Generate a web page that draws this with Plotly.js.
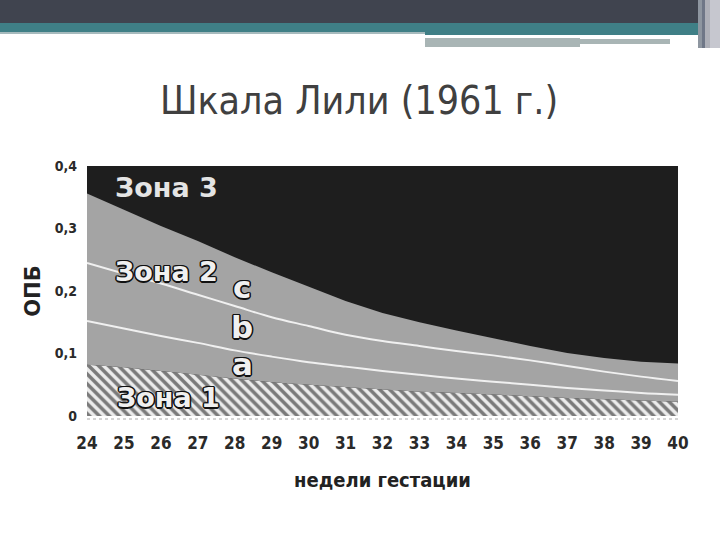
<!DOCTYPE html>
<html>
<head>
<meta charset="utf-8">
<script src="https://cdn.plot.ly/plotly-3.0.1.min.js"></script>
<style>
html,body{margin:0;padding:0;background:#ffffff;}
#chart{width:720px;height:540px;}
</style>
</head>
<body>
<div id="chart"></div>
<script>
// ---- data ----
const weeks = [24,25,26,27,28,29,30,31,32,33,34,35,36,37,38,39,40];
// upper limit of Zone 1 (hatched)
const zone1Top = [0.082,0.078,0.072,0.066,0.060,0.054,0.050,0.046,0.042,0.039,0.037,0.034,0.032,0.029,0.027,0.025,0.023];
// upper limit of Zone 2 (= lower limit of Zone 3)
const zone2Top = [0.356,0.330,0.304,0.280,0.254,0.230,0.207,0.184,0.165,0.150,0.137,0.124,0.112,0.101,0.093,0.087,0.084];
// white line between sub-zones b and c
const lineBC = [0.245,0.228,0.212,0.194,0.176,0.158,0.144,0.130,0.120,0.112,0.104,0.097,0.089,0.080,0.071,0.063,0.056];
// white line between sub-zones a and b
const lineAB = [0.152,0.140,0.128,0.117,0.105,0.095,0.086,0.079,0.072,0.066,0.060,0.055,0.050,0.045,0.041,0.037,0.034];
const yTickVals = [0,0.1,0.2,0.3,0.4];
const yTickText = ['0','0,1','0,2','0,3','0,4'];
const xTickText = weeks.map(String);

// ---- layout geometry ----
const L = 87, R = 678, T = 166, B = 416;
const W = 720, H = 540;
const px = x => (x - L) / (R - L);
const py = y => (B - y) / (B - T);
function rect(x0, y0, x1, y1, color) {
  return {type:'rect', xref:'paper', yref:'paper', x0:px(x0), x1:px(x1), y0:py(y1), y1:py(y0),
          fillcolor:color, line:{width:0}, layer:'above'};
}

const outline = '-1px -1px 0 #111, 1px -1px 0 #111, -1px 1px 0 #111, 1px 1px 0 #111, 0 1.5px 0 #111, 0 -1.5px 0 #111, 1.5px 0 0 #111, -1.5px 0 0 #111';
const labelFont = {family:'DejaVu Sans', size:27, color:'#f0f0f0', weight:'bold', shadow:outline};
const letterFont = {family:'DejaVu Sans', size:31, color:'#f0f0f0', weight:'bold', shadow:outline};
const narrow = 'Liberation Sans Narrow, DejaVu Sans Condensed, sans-serif';

const traces = [
  {x:weeks, y:zone1Top, type:'scatter', mode:'lines', fill:'tozeroy', name:'Зона 1',
   line:{width:0, color:'rgba(0,0,0,0)'}, fillcolor:'#eeeeee',
   fillpattern:{shape:'\\', bgcolor:'#ececec', fgcolor:'#7a7a7a', size:7, solidity:0.5},
   hoverinfo:'skip'},
  {x:weeks, y:zone2Top, type:'scatter', mode:'lines', fill:'tonexty', name:'Зона 2',
   line:{width:0, color:'rgba(0,0,0,0)'}, fillcolor:'#a4a4a4', hoverinfo:'skip'},
  {x:weeks, y:lineBC, type:'scatter', mode:'lines', name:'c/b',
   line:{width:2, color:'#f0f0f0', shape:'spline'}, hoverinfo:'skip'},
  {x:weeks, y:lineAB, type:'scatter', mode:'lines', name:'b/a',
   line:{width:2, color:'#f0f0f0', shape:'spline'}, hoverinfo:'skip'}
];

const shapes = [
  rect(0, 0, 698, 23, '#40444f'),
  rect(0, 23, 698, 32, '#3f7f86'),
  rect(0, 32, 425, 34, '#a6babd'),
  rect(425, 32, 698, 35, '#3f7f86'),
  rect(425, 38, 580, 47, '#a9b5b5'),
  rect(580, 39, 670, 44, '#a9b5b5'),
  rect(698, 0, 702, 48, '#8e96a0'),
  rect(702, 0, 705, 48, '#6f7787'),
  rect(705, 0, 710, 48, '#aeb0b8'),
  rect(710, 0, 720, 48, '#c6c7cf'),
  {type:'line', xref:'paper', yref:'paper', x0:0, x1:1, y0:py(419), y1:py(419),
   line:{color:'#aaaaaa', width:1, dash:'dot'}}
];

const annotations = [
  {x:26.15, y:0.365, xref:'x', yref:'y', text:'Зона 3', showarrow:false,
   font:{family:'DejaVu Sans', size:27, color:'#e4e4e4', weight:'bold'}},
  {x:26.15, y:0.232, xref:'x', yref:'y', text:'Зона 2', showarrow:false, font:labelFont},
  {x:28.2, y:0.206, xref:'x', yref:'y', text:'c', showarrow:false, font:letterFont},
  {x:28.2, y:0.143, xref:'x', yref:'y', text:'b', showarrow:false, font:letterFont},
  {x:28.2, y:0.084, xref:'x', yref:'y', text:'a', showarrow:false, font:letterFont},
  {x:26.2, y:0.030, xref:'x', yref:'y', text:'Зона 1', showarrow:false, font:labelFont}
];

const layout = {
  width:W, height:H,
  margin:{l:L, r:W-R, t:T, b:H-B, pad:0},
  paper_bgcolor:'#ffffff',
  plot_bgcolor:'#1e1e1e',
  showlegend:false,
  title:{text:'Шкала Лили (1961 г.)', xref:'paper', x:px(359), xanchor:'center',
         yref:'container', y:1-100/H, yanchor:'middle',
         font:{family:narrow, size:39, color:'#404040'}},
  xaxis:{range:[24,40], tickmode:'array', tickvals:weeks, ticktext:xTickText,
         showgrid:false, zeroline:false, showline:false, ticks:'', ticklabelstandoff:15,
         tickfont:{family:narrow, size:17, color:'#2a2a2a', weight:'bold'},
         title:{text:'недели гестации', standoff:20,
                font:{family:narrow, size:20, color:'#222222', weight:'bold'}}},
  yaxis:{range:[0,0.4], tickmode:'array', tickvals:yTickVals, ticktext:yTickText,
         showgrid:false, zeroline:false, showline:false, ticks:'', ticklabelstandoff:9,
         tickfont:{family:narrow, size:14, color:'#2a2a2a', weight:'bold'},
         title:{text:'ОПБ', standoff:8,
                font:{family:'DejaVu Sans, sans-serif', size:21, color:'#222222', weight:'bold'}}},
  shapes:shapes,
  annotations:annotations
};

Plotly.newPlot('chart', traces, layout, {staticPlot:true, displayModeBar:false});
</script>
</body>
</html>
